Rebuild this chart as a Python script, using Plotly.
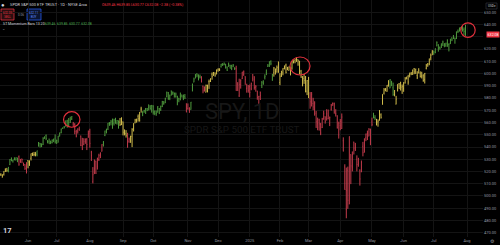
import pandas as pd
import plotly.graph_objects as go

# ---------------- DATA ----------------
holidays = ["2024-05-27", "2024-06-19", "2024-07-04", "2024-09-02", "2024-11-28",
            "2024-12-25", "2025-01-01", "2025-01-09", "2025-01-20", "2025-02-17",
            "2025-04-18", "2025-05-26", "2025-06-19", "2025-07-04"]

opens = [
    501.4,502.0,511.2,513.7,517.6,515.3,517.4,521.8,522.6,521.1,525.8,529.9,528.8,529.6,529.3,530.7,532.2,527.9,530.3,525.7,525.7,523.6,
    529.0,526.5,530.8,534.9,533.7,533.2,534.1,541.6,543.2,540.9,542.1,547.2,549.4,544.4,544.3,543.9,543.7,545.4,547.2,
    545.6,543.7,548.7,551.8,555.4,556.3,557.1,561.4,557.6,562.0,562.9,558.8,558.5,552.4,553.0,554.5,548.9,541.4,542.3,546.0,546.3,548.0,
    552.6,535.8,511.6,519.2,528.5,523.9,529.8,534.2,536.5,542.9,549.5,551.4,554.7,559.2,559.8,562.6,559.5,563.2,559.5,561.2,560.3,560.8,
    560.5,550.2,550.9,549.9,544.7,548.4,548.7,555.0,559.7,561.7,565.1,563.7,571.0,567.8,569.3,571.0,571.1,574.4,573.4,570.4,
    573.4,567.7,567.4,572.0,571.3,570.4,573.2,575.8,576.1,581.2,584.6,579.8,585.9,584.1,583.9,581.1,581.3,579.9,581.5,582.6,579.8,581.3,575.6,
    571.3,571.2,570.7,589.2,593.0,596.2,599.8,598.7,597.4,597.3,589.7,586.2,584.7,590.4,593.4,593.7,599.5,598.8,600.5,599.7,
    602.9,603.4,605.6,607.7,607.4,607.7,605.4,605.8,606.6,606.4,606.0,604.2,604.0,591.4,581.8,590.9,596.1,599.5,597.5,587.9,589.9,
    589.4,587.5,596.3,597.4,588.7,585.9,575.8,585.0,590.3,594.2,596.9,600.7,605.9,605.8,609.8,594.8,600.6,603.7,603.7,607.5,
    592.7,597.8,600.6,605.0,606.9,604.0,602.5,599.2,604.5,609.9,610.9,610.1,611.5,610.2,602.0,597.2,595.9,596.9,585.6,
    596.2,579.7,576.7,575.5,570.9,567.6,559.4,562.2,558.5,556.1,562.8,564.8,562.8,563.3,559.3,570.8,575.3,575.2,567.2,565.5,549.8,
    557.5,555.1,545.1,523.7,489.2,521.0,493.4,533.9,523.6,544.1,539.7,530.0,527.7,521.2,519.9,540.6,535.8,547.5,551.4,548.9,547.6,
    560.4,564.6,564.1,559.8,560.4,565.2,566.3,578.8,584.0,587.8,585.6,591.2,588.1,593.1,588.4,582.7,575.0,586.1,591.6,593.0,588.9,
    587.8,592.3,596.9,597.6,598.7,600.2,600.6,604.2,600.0,598.5,600.5,600.4,598.1,598.4,595.0,604.3,607.9,608.0,612.9,617.4,
    616.4,617.2,622.5,623.4,621.4,622.8,624.2,622.7,623.2,627.5,623.7,624.4,629.3,628.8,629.1,631.6,634.6,635.1,637.5,638.4,635.9,639.46,
]

highs = [
    508.2,505.9,512.6,516.9,518.6,517.7,520.3,522.6,522.7,523.8,530.1,531.5,529.6,531.6,531.5,531.4,533.1,530.3,530.5,527.3,525.9,527.5,
    529.3,529.1,534.7,535.4,536.0,535.8,537.0,544.1,543.3,542.8,548.0,548.6,550.3,545.7,546.9,545.2,546.2,546.8,550.3,
    545.9,549.1,551.8,555.1,556.0,557.2,561.7,562.3,563.7,564.8,565.2,560.5,559.5,554.1,555.3,556.7,549.4,547.5,547.2,547.1,547.3,553.5,
    554.9,536.9,523.6,529.8,528.8,531.3,534.5,535.7,542.3,544.9,553.4,555.0,559.7,560.4,562.1,563.2,563.1,563.9,562.1,561.7,563.7,564.2,
    560.8,554.4,553.8,551.6,547.7,549.2,555.4,559.4,563.0,563.1,566.6,568.7,572.9,569.3,570.4,571.9,571.9,574.7,574.2,574.4,
    574.1,569.9,569.8,573.4,571.9,573.8,577.7,577.6,580.3,585.3,584.9,582.8,586.1,585.4,584.5,584.5,581.9,580.1,584.5,582.7,582.9,583.3,575.6,
    575.6,572.5,576.8,591.9,596.7,599.6,600.2,599.3,599.2,597.8,590.2,589.5,591.0,590.8,595.1,596.2,600.9,601.3,600.9,603.4,
    604.3,604.2,607.9,608.5,609.1,607.9,605.8,609.0,607.2,607.2,607.8,605.2,606.4,593.0,595.8,595.3,601.4,602.5,597.8,591.7,590.6,
    591.1,592.6,599.7,597.8,590.6,585.9,581.8,585.2,593.9,594.4,599.4,603.2,607.8,609.9,610.8,599.7,605.4,604.1,606.6,609.9,
    600.3,602.3,604.4,606.5,608.1,605.5,605.9,604.5,609.9,610.9,611.6,613.2,611.5,610.3,603.0,597.9,599.6,598.0,594.7,
    597.3,584.9,584.9,580.2,577.4,569.5,564.0,563.1,559.7,563.8,569.7,565.0,570.9,570.6,564.9,575.2,576.4,576.3,570.9,565.9,560.7,
    562.9,567.4,547.9,525.9,523.2,524.0,548.7,534.0,536.4,544.3,543.4,533.2,531.2,521.7,529.0,544.2,547.0,551.0,553.4,555.5,555.0,
    564.0,568.0,566.0,563.0,562.6,570.2,567.5,583.1,588.2,588.0,590.6,594.5,595.5,594.1,592.6,586.6,581.8,591.3,592.3,593.2,591.1,
    592.9,597.1,597.5,599.0,600.8,601.3,603.2,604.5,603.9,601.9,604.4,601.8,601.5,599.5,600.5,607.9,608.6,612.3,616.4,619.2,
    618.8,620.6,626.3,624.0,622.1,624.7,626.9,624.9,625.2,627.9,624.7,628.4,629.5,631.5,629.2,634.3,636.0,637.6,638.0,638.7,637.7,639.85,
]

lows = [
    499.9,499.6,508.6,513.3,516.4,515.1,516.7,519.6,519.7,519.3,525.2,528.5,527.3,529.2,529.1,527.6,524.7,527.1,526.8,524.6,521.3,518.4,
    522.6,524.6,529.0,532.7,532.5,532.4,532.4,540.3,539.6,539.9,541.6,546.7,545.6,543.0,542.6,542.4,543.0,544.0,542.9,
    542.5,543.7,548.7,551.2,554.8,555.2,556.8,555.8,557.2,559.6,562.1,556.6,550.4,547.9,551.0,553.3,540.7,537.5,541.5,542.6,537.5,547.6,
    539.4,528.6,510.3,517.9,518.0,521.6,528.6,530.9,536.3,540.4,548.9,551.3,553.9,557.3,557.7,554.9,557.6,559.0,558.3,555.0,557.2,557.9,
    549.5,549.5,547.7,539.4,543.4,543.4,539.9,552.7,559.4,559.9,560.8,560.8,568.1,565.2,568.0,567.0,569.3,569.9,570.4,568.1,
    566.5,566.0,565.5,568.0,566.9,569.5,572.6,574.5,575.9,580.6,578.5,578.3,582.2,582.6,580.4,580.4,574.1,576.6,578.1,580.5,578.3,579.3,568.4,
    570.6,567.9,570.5,585.4,592.9,596.2,597.0,594.4,596.0,592.7,583.9,585.3,584.6,584.6,587.5,593.1,595.0,598.1,597.4,599.4,
    601.5,602.1,604.9,606.3,606.8,604.1,602.1,605.5,604.2,602.8,605.2,602.9,585.9,585.9,580.9,587.7,595.5,598.1,590.8,584.4,584.4,
    580.5,586.4,593.6,586.8,585.2,578.6,575.4,578.4,588.2,590.9,595.2,598.7,605.4,605.5,606.8,594.1,597.5,599.2,600.7,600.6,
    590.5,597.3,598.6,603.4,600.1,602.7,602.4,598.5,603.2,608.3,608.4,609.6,606.4,599.4,596.5,589.6,591.6,584.7,582.4,
    579.9,571.3,573.1,570.1,565.6,555.6,553.7,553.4,549.7,555.5,562.4,559.1,561.6,562.6,557.1,569.7,573.6,567.2,564.9,555.1,546.9,
    553.7,554.8,536.4,505.1,481.8,489.5,493.3,509.7,520.1,533.9,536.8,520.1,523.9,508.5,519.4,532.4,535.5,544.8,545.7,548.8,541.5,
    557.0,563.4,562.0,557.6,556.6,561.5,563.2,574.5,582.9,585.5,585.1,589.3,588.0,589.7,581.8,581.4,574.8,585.4,587.6,586.1,583.4,
    585.1,591.9,595.2,590.9,596.9,598.7,598.8,599.5,599.9,595.5,600.2,596.8,596.0,593.3,591.9,603.4,605.5,606.8,610.8,615.0,
    615.2,616.6,622.4,617.9,619.5,620.9,622.5,621.5,621.8,622.0,618.1,624.2,626.5,628.3,624.4,628.2,633.1,634.3,635.5,634.3,631.5,630.77,
]

closes = [
    500.4,505.0,511.3,516.8,517.1,517.2,520.2,520.8,520.9,523.3,529.8,528.7,529.5,530.1,531.4,529.8,526.0,529.4,529.8,526.1,522.6,527.4,
    527.8,528.4,534.7,534.7,534.0,535.7,537.0,541.4,542.5,542.8,547.1,548.5,547.0,544.5,542.7,544.8,545.5,546.4,544.2,
    545.3,549.0,551.5,554.6,555.3,555.8,561.3,556.5,560.0,561.5,564.9,556.9,552.7,549.0,554.7,553.8,541.2,538.4,544.4,544.8,542.0,550.8,
    543.0,532.9,517.4,522.2,518.7,530.7,533.0,533.3,542.0,543.8,553.1,554.3,559.6,558.7,560.6,556.2,562.1,560.8,561.6,558.3,558.4,563.7,
    552.1,551.0,549.6,540.4,546.4,548.8,554.4,559.1,562.0,562.8,563.1,561.4,571.0,568.3,569.7,571.3,570.0,572.3,571.5,573.8,
    568.6,568.9,567.8,573.0,567.8,573.2,577.1,575.9,579.6,584.3,579.8,582.3,582.4,584.6,583.6,583.3,578.0,579.2,579.0,580.8,581.8,580.0,568.6,
    571.0,569.8,576.7,591.0,595.6,598.2,598.8,596.9,597.2,593.4,585.8,588.2,590.3,590.5,593.7,595.5,597.5,600.7,598.8,602.6,
    603.6,603.9,607.7,606.7,607.8,604.7,602.8,607.5,604.3,604.2,606.8,604.3,586.3,586.1,591.2,594.7,601.3,601.3,595.0,588.2,586.1,
    584.6,592.0,595.4,588.6,589.5,580.5,581.4,582.2,592.8,591.6,597.6,603.1,606.4,609.8,608.0,599.4,604.5,601.8,605.0,601.8,
    597.8,601.8,604.2,606.3,600.8,604.9,605.3,603.4,609.7,609.7,611.5,612.9,610.4,599.9,597.2,594.2,594.5,585.1,594.2,
    583.8,576.9,583.1,572.7,575.9,560.6,555.9,558.9,551.4,562.8,567.2,561.0,567.1,565.5,564.0,574.1,575.5,568.6,567.1,555.7,559.4,
    561.0,564.5,536.7,505.3,504.4,496.5,548.6,524.6,533.9,539.1,537.6,525.7,526.4,513.9,527.3,535.4,546.7,550.6,550.9,554.3,554.5,
    558.5,566.8,563.5,558.8,561.2,565.1,564.3,583.0,586.8,587.6,590.5,594.2,594.9,592.9,582.9,583.1,579.1,591.2,587.7,590.1,589.4,
    592.7,596.1,595.9,593.1,599.1,599.7,603.1,601.4,603.8,597.0,602.7,597.5,597.4,594.3,600.2,606.8,607.1,611.9,614.9,617.9,
    617.7,620.5,625.3,620.7,620.3,624.1,625.8,623.6,624.8,622.1,624.2,628.0,627.6,628.8,628.9,634.2,634.4,637.1,636.9,635.3,634.5,632.08,
]

# momentum bar colour states (G = strong up, Y = weakening, R = down), run-length encoded
color_runs = [("Y", 9), ("G", 7), ("R", 6), ("Y", 6), ("G", 24), ("R", 20), ("G", 11),
              ("Y", 5), ("R", 2), ("Y", 8), ("G", 29), ("R", 3), ("G", 7), ("R", 3),
              ("Y", 10), ("G", 10), ("R", 17), ("G", 8), ("Y", 24), ("R", 42), ("G", 2),
              ("Y", 9), ("G", 3), ("Y", 26), ("G", 22)]

circle_dates = ["2024-07-16", "2025-02-19", "2025-07-31"]

y_ticks = list(range(470, 660, 10))

header_title = "SPDR S&P 500 ETF TRUST · 1D · NYSE Arca"
header_ohlc = "O639.46 H639.85 L630.77 C632.08 −2.38 (−0.38%)"
sell_price, buy_price, spread = "632.05", "632.11", "0.06"
indicator_name = "ST Momentum Bars 13 20"
indicator_vals = "639.46  639.85  630.77  632.08"

# ---------------- BUILD ----------------
n = len(closes)
if not (len(opens) == len(highs) == len(lows) == n):
    raise ValueError(f"lengths {len(opens)} {len(highs)} {len(lows)} {n}")

all_days = pd.bdate_range("2024-05-01", "2025-08-01")
days = all_days[~all_days.isin(pd.to_datetime(holidays))]
dates = days[:n]
codes = "".join(c * k for c, k in color_runs)
if len(codes) != n:
    raise ValueError(f"codes {len(codes)} vs {n}")

palette = {"G": "#4f9a3d", "Y": "#d2bd4c", "R": "#c43c4c"}

W, H = 500, 245
ML, MR, MT, MB = 0, 17, 0, 8
PW, PH = W - ML - MR, H - MT - MB
BAR_PX = 1.5086
x_lo = 22 - 28 / BAR_PX
x_hi = x_lo + PW / BAR_PX
y_lo, y_hi = 466.5, 660.1

FONT = "Roboto, Liberation Sans, sans-serif"

fig = go.Figure()
for code, col in palette.items():
    idx = [i for i in range(n) if codes[i] == code]
    fig.add_trace(go.Ohlc(
        x=idx,
        open=[opens[i] for i in idx], high=[highs[i] for i in idx],
        low=[lows[i] for i in idx], close=[closes[i] for i in idx],
        increasing=dict(line=dict(color=col, width=1)),
        decreasing=dict(line=dict(color=col, width=1)),
        tickwidth=0.3, hoverinfo="skip", showlegend=False))

tickvals, ticktext = [], []
for k in range(1, len(days)):
    if days[k].month != days[k - 1].month:
        tickvals.append(k)
        ticktext.append(str(days[k].year) if days[k].month == 1 else days[k].strftime("%b"))

last = closes[-1]
# the price scale hides the label that the last-price tag covers
y_ticktext = ["" if abs(v - last) < 5 else f"{v:.2f}" for v in y_ticks]


def px(x):
    return (x - ML) / PW


def py(y):
    return 1 - (y - MT) / PH


anns = []


def text(t, x, y, size, color, anchor="left", **kw):
    anns.append(dict(text=t, x=px(x), y=py(y), xref="paper", yref="paper",
                     xanchor=anchor, yanchor="middle", showarrow=False,
                     font=dict(size=size, color=color, family=FONT), **kw))


# watermark
text("SPY, 1D", 241.5, 111.5, 22, "#171717", "center")
text("SPDR S&P 500 ETF TRUST", 241.5, 129, 9.8, "#171717", "center")

# header
text("●", 3, 5, 6, "#d1d4dc", "center")
text(header_title, 8, 5, 4, "#d1d4dc")
text(header_ohlc, 100, 5, 3.6, "#f23645")
text(sell_price + "<br>SELL", 7.5, 14.5, 3, "#f23645", "center")
text(spread, 20.5, 14.5, 3, "#9598a1", "center")
text(buy_price + "<br>BUY", 34, 14.5, 3, "#5b8cff", "center")
text(indicator_name, 1, 23.5, 3.6, "#d1d4dc")
text(indicator_vals, 43, 23.5, 3.4, "#4caf50")
text("⌃", 3.5, 30, 4, "#9598a1", "center")
text("USD ▾", 491.5, 6, 3, "#d1d4dc", "center")
text("<b>17</b>", 0.5, 230, 7.5, "#d1d4dc")
text("⚙", 492.5, 241, 5, "#9598a1", "center")

# last price tag
anns.append(dict(text=f"{last:.2f}", x=px(485.5), y=last, xref="paper", yref="y",
                 xanchor="left", yanchor="middle", showarrow=False, bgcolor="#f23645",
                 borderpad=0.6, font=dict(size=3.6, color="#ffffff", family=FONT)))

shapes = [
    dict(type="rect", xref="paper", yref="paper", x0=px(1), x1=px(14), y0=py(20), y1=py(9),
         line=dict(color="#f23645", width=0.7), fillcolor="#2b0e10", layer="below"),
    dict(type="rect", xref="paper", yref="paper", x0=px(27), x1=px(41), y0=py(20), y1=py(9),
         line=dict(color="#2962ff", width=0.7), fillcolor="#0b1533", layer="below"),
    dict(type="rect", xref="paper", yref="paper", x0=px(486), x1=px(497), y0=py(9), y1=py(3),
         line=dict(color="#363a45", width=0.6)),
]

circle_style = [(0, -3.3, 8.2, 7.8), (3.5, -8.6, 10.0, 9.0), (2.5, -5.3, 7.2, 7.3)]
date_list = [d.strftime("%Y-%m-%d") for d in dates]
for d, (dx, dy, rx, ry) in zip(circle_dates, circle_style):
    i = date_list.index(d)
    shapes.append(dict(type="circle", xref="x", yref="y", xsizemode="pixel", ysizemode="pixel",
                       xanchor=i, yanchor=highs[i], x0=dx - rx, x1=dx + rx, y0=dy - ry, y1=dy + ry,
                       line=dict(color="#e0303c", width=1.2)))

fig.update_layout(
    width=W, height=H, margin=dict(l=ML, r=MR, t=MT, b=MB, pad=0),
    paper_bgcolor="#000000", plot_bgcolor="#000000",
    showlegend=False, annotations=anns, shapes=shapes,
    font=dict(family=FONT, color="#9598a1"),
    xaxis=dict(range=[x_lo, x_hi], tickvals=tickvals, ticktext=ticktext,
               showgrid=True, gridcolor="#141414", gridwidth=1, zeroline=False,
               ticks="", tickfont=dict(size=4, color="#9598a1"),
               rangeslider=dict(visible=False), fixedrange=True, automargin=False),
    yaxis=dict(range=[y_lo, y_hi], side="right", tickvals=y_ticks,
               ticktext=y_ticktext,
               showgrid=True, gridcolor="#141414", gridwidth=1, zeroline=False,
               ticks="", tickfont=dict(size=4, color="#9598a1"), fixedrange=True,
               automargin=False),
)

fig.write_html("out.html", config={"displayModeBar": False})
